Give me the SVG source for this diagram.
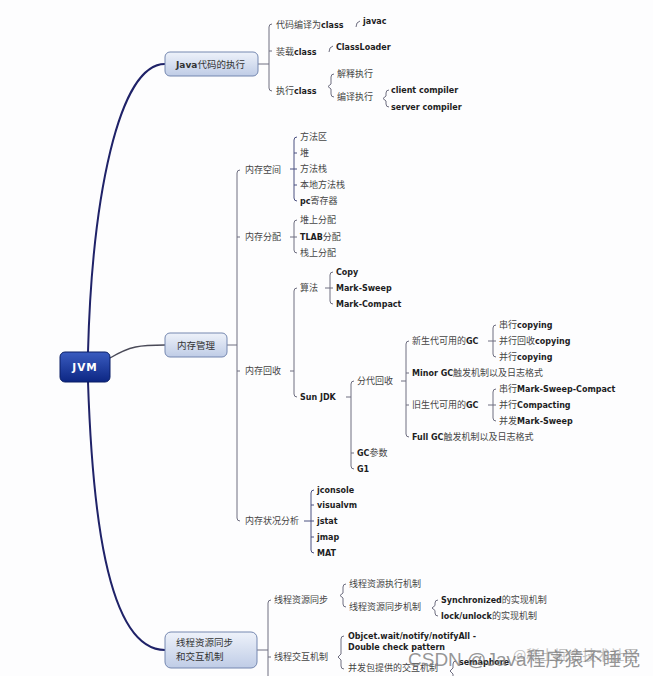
<svg xmlns="http://www.w3.org/2000/svg" width="653" height="676" viewBox="0 0 653 676">
<defs>
<linearGradient id="gLight" x1="0" y1="0" x2="0" y2="1">
<stop offset="0" stop-color="#eef2fa"/><stop offset="1" stop-color="#bfcce6"/>
</linearGradient>
<linearGradient id="gDark" x1="0" y1="0" x2="0" y2="1">
<stop offset="0" stop-color="#3a5cc0"/><stop offset="1" stop-color="#0c2683"/>
</linearGradient>
<style>
text{font-family:"DejaVu Sans","Noto Sans CJK SC",sans-serif;font-size:9px;fill:#454545}
.b{font-weight:bold;font-size:8px;fill:#1e1e1e}
.box{fill:url(#gLight);stroke:#7487b0;stroke-width:1}
.nt{font-size:9.5px;fill:#333}
.nb{font-weight:bold;font-size:9px;fill:#333}
.br{fill:none;stroke:#6e6e80;stroke-width:1}
.main{fill:none;stroke:#1f2268;stroke-width:2;stroke-linecap:round}
.thin{fill:none;stroke:#4a4a58;stroke-width:1.3}
.wm{font-family:"Liberation Sans","Noto Sans CJK SC",sans-serif;font-size:19px;fill:#7a7a7a;fill-opacity:0.8}
.wm2{font-family:"Noto Sans CJK SC",sans-serif;font-size:14px;fill:#c2c2c2}
</style>
</defs>
<rect width="653" height="676" fill="#fdfdfe"/>

<g id="connectors">
<path class="main" d="M88 352C92 200 118 64 165 64"/>
<path class="thin" d="M110 358C130 346 140 345 165 345"/>
<path class="main" d="M88 382C92 500 105 650 165 650"/>
<g class="br">
<path d="M258 64H269M272 24Q269 24 269 27V88Q269 91 272 91M269 51H272"/>
<path d="M356 27Q356 22 360 21"/>
<path d="M329 52Q329 47 333 46"/>
<path d="M334 74Q331 74 331 77V84L328 86.5L331 89V94Q331 97 334 97"/>
<path d="M389 90Q386 90 386 93V96L383 98.5L386 101V104Q386 107 389 107"/>
<path d="M227 345H237M240 170Q237 170 237 173V518Q237 521 240 521M237 237H240M237 371H240"/>
<path d="M290 169H294M297 137Q294 137 294 140V198Q294 201 297 201M294 153H297M294 169H297M294 185H297" stroke="#4b5080"/>
<path d="M290 237H294M297 220Q294 220 294 223V250Q294 253 297 253M294 237H297"/>
<path d="M290 371H294M297 288Q294 288 294 291V394Q294 397 297 397"/>
<path d="M325 288H330M333 272Q330 272 330 275V301Q330 304 333 304M330 288H333"/>
<path d="M346 397H351M354 381Q351 381 351 384V466Q351 469 354 469M351 453H354"/>
<path d="M401 381H406M409 341Q406 341 406 344V434Q406 437 409 437M406 373H409M406 405H409"/>
<path d="M488 341H493M496 325Q493 325 493 328V354Q493 357 496 357M493 341H496"/>
<path d="M488 405H493M496 389Q493 389 493 392V418Q493 421 496 421M493 405H496"/>
<path d="M304 521H311M314 490Q311 490 311 493V550Q311 553 314 553M311 505H314M311 521H314M311 537H314" stroke="#4b5080"/>
<path d="M257 650H268M271 600Q268 600 268 603V690M268 657H271"/>
<path d="M346 584Q343 584 343 587V593L340 595.5L343 598V604Q343 607 346 607"/>
<path d="M438 600Q435 600 435 603V605.5L432 608L435 610.5V613Q435 616 438 616"/>
<path d="M344 636Q341 636 341 639V654L338 657L341 660V666Q341 669 344 669"/>
<path d="M456 661Q453 661 453 664V668L450 671L453 674V690"/>
</g>
</g>

<g id="jvm">
<rect x="60" y="352" width="50" height="30" rx="5" fill="url(#gDark)" stroke="#0a1f66"/>
<text x="85" y="371" text-anchor="middle" style="font-weight:bold;font-size:10.5px;fill:#fff;letter-spacing:1px">JVM</text>
</g>

<g id="java-exec">
<rect class="box" x="165" y="52" width="93" height="24" rx="5"/>
<text x="176" y="67.5"><tspan class="nb">Java</tspan><tspan class="nt">代码的执行</tspan></text>
</g>
<g id="compile"><text x="276" y="27.5">代码编译为<tspan class="b">class</tspan></text></g>
<g id="javac"><text x="363" y="24" class="b">javac</text></g>
<g id="load"><text x="276" y="54.5">装载<tspan class="b">class</tspan></text></g>
<g id="classloader"><text x="336" y="50" class="b">ClassLoader</text></g>
<g id="run"><text x="276" y="94">执行<tspan class="b">class</tspan></text></g>
<g id="interp"><text x="337" y="77">解释执行</text></g>
<g id="jit"><text x="337" y="100">编译执行</text></g>
<g id="client"><text x="391" y="93" class="b">client compiler</text></g>
<g id="server"><text x="391" y="110" class="b">server compiler</text></g>

<g id="mem">
<rect class="box" x="165" y="333" width="62" height="24" rx="5"/>
<text x="196" y="348.5" text-anchor="middle" class="nt">内存管理</text>
</g>
<g id="mem-space"><text x="245" y="172.5">内存空间</text></g>
<g id="ms1"><text x="300" y="140">方法区</text></g>
<g id="ms2"><text x="300" y="156">堆</text></g>
<g id="ms3"><text x="300" y="172">方法栈</text></g>
<g id="ms4"><text x="300" y="188">本地方法栈</text></g>
<g id="ms5"><text x="300" y="204"><tspan class="b">pc</tspan>寄存器</text></g>
<g id="mem-alloc"><text x="245" y="240">内存分配</text></g>
<g id="ma1"><text x="300" y="223">堆上分配</text></g>
<g id="ma2"><text x="300" y="240"><tspan class="b">TLAB</tspan>分配</text></g>
<g id="ma3"><text x="300" y="256">栈上分配</text></g>
<g id="mem-gc"><text x="245" y="374">内存回收</text></g>
<g id="algo"><text x="300" y="291">算法</text></g>
<g id="a1"><text x="336" y="275" class="b">Copy</text></g>
<g id="a2"><text x="336" y="291" class="b">Mark-Sweep</text></g>
<g id="a3"><text x="336" y="307" class="b">Mark-Compact</text></g>
<g id="sunjdk"><text x="300" y="400" class="b">Sun JDK</text></g>
<g id="gen"><text x="357" y="384">分代回收</text></g>
<g id="young"><text x="412" y="344">新生代可用的<tspan class="b">GC</tspan></text></g>
<g id="y1"><text x="499" y="328">串行<tspan class="b">copying</tspan></text></g>
<g id="y2"><text x="499" y="344">并行回收<tspan class="b">copying</tspan></text></g>
<g id="y3"><text x="499" y="360">并行<tspan class="b">copying</tspan></text></g>
<g id="minor"><text x="412" y="376"><tspan class="b">Minor GC</tspan>触发机制以及日志格式</text></g>
<g id="old"><text x="412" y="408">旧生代可用的<tspan class="b">GC</tspan></text></g>
<g id="o1"><text x="499" y="392">串行<tspan class="b">Mark-Sweep-Compact</tspan></text></g>
<g id="o2"><text x="499" y="408">并行<tspan class="b">Compacting</tspan></text></g>
<g id="o3"><text x="499" y="424">并发<tspan class="b">Mark-Sweep</tspan></text></g>
<g id="full"><text x="412" y="440"><tspan class="b">Full GC</tspan>触发机制以及日志格式</text></g>
<g id="gcparam"><text x="357" y="456"><tspan class="b">GC</tspan>参数</text></g>
<g id="g1"><text x="357" y="472" class="b">G1</text></g>
<g id="mem-stat"><text x="245" y="524">内存状况分析</text></g>
<g id="t1"><text x="317" y="493" class="b">jconsole</text></g>
<g id="t2"><text x="317" y="508" class="b">visualvm</text></g>
<g id="t3"><text x="317" y="524" class="b">jstat</text></g>
<g id="t4"><text x="317" y="540" class="b">jmap</text></g>
<g id="t5"><text x="317" y="556" class="b">MAT</text></g>

<g id="thread">
<rect class="box" x="165" y="632" width="92" height="36" rx="6"/>
<text x="176" y="646" class="nt">线程资源同步</text>
<text x="176" y="660" class="nt">和交互机制</text>
</g>
<g id="th-sync"><text x="274" y="603">线程资源同步</text></g>
<g id="th-exec"><text x="349" y="587">线程资源执行机制</text></g>
<g id="th-syncmech"><text x="349" y="610">线程资源同步机制</text></g>
<g id="sync1"><text x="441" y="603"><tspan class="b">Synchronized</tspan>的实现机制</text></g>
<g id="sync2"><text x="441" y="619"><tspan class="b">lock/unlock</tspan>的实现机制</text></g>
<g id="th-inter"><text x="274" y="660">线程交互机制</text></g>
<g id="wait"><text x="348" y="639" class="b">Objcet.wait/notify/notifyAll -</text><text x="348" y="650" class="b">Double check pattern</text></g>
<g id="conc"><text x="348" y="671">并发包提供的交互机制</text></g>
<g id="sem"><text x="459" y="665" class="b">semaphore</text></g>

<g id="watermark">
<text x="513" y="660" class="wm2">@稀土掘金技术社区</text>
<text x="408" y="666" class="wm">CSDN @Java程序猿不睡觉</text>
</g>
</svg>
